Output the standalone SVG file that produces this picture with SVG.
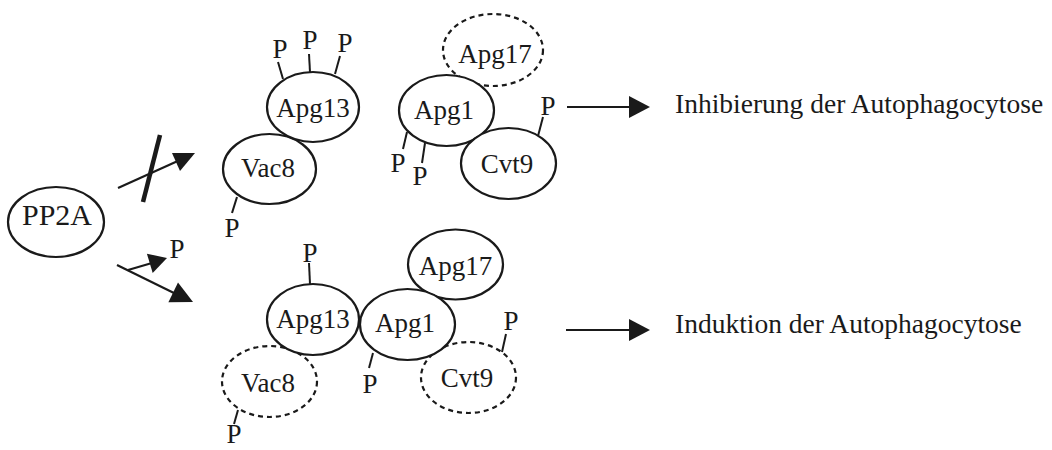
<svg xmlns="http://www.w3.org/2000/svg" width="1052" height="450" viewBox="0 0 1052 450">
  <style>
    .node { fill: #fff; stroke: #1a1a1a; stroke-width: 2.2; }
    .dashed { stroke-dasharray: 5 4; }
    .lbl { font-family: "Liberation Serif", "Times New Roman", serif; font-size: 27px; fill: #1a1a1a; text-anchor: middle; }
    .big { font-size: 30px; }
    .note { font-family: "Liberation Serif", "Times New Roman", serif; font-size: 27.5px; fill: #1a1a1a; }
    .tick { stroke: #1a1a1a; stroke-width: 2; fill: none; }
    .line { stroke: #1a1a1a; stroke-width: 2.2; fill: none; }
    .head { fill: #1a1a1a; stroke: none; }
  </style>

  <!-- PP2A -->
  <g id="pp2a">
    <ellipse class="node" cx="56" cy="222" rx="48" ry="35"/>
    <text class="lbl big" x="57" y="225">PP2A</text>
  </g>

  <!-- Inactive complex (upper row) -->
  <g id="apg17-top">
    <ellipse class="node dashed" cx="493" cy="50" rx="50" ry="36"/>
    <text class="lbl" x="495" y="63">Apg17</text>
  </g>
  <g id="vac8-top">
    <ellipse class="node" cx="269.5" cy="169" rx="46.5" ry="35"/>
    <text class="lbl" x="268" y="177">Vac8</text>
  </g>
  <g id="apg13-top">
    <ellipse class="node" cx="313" cy="107" rx="46" ry="35"/>
    <text class="lbl" x="313" y="117">Apg13</text>
  </g>
  <g id="apg1-top">
    <ellipse class="node" cx="446.5" cy="110.5" rx="47.5" ry="35.5"/>
    <text class="lbl" x="444" y="119">Apg1</text>
  </g>
  <g id="cvt9-top">
    <ellipse class="node" cx="508.5" cy="163.5" rx="47.5" ry="35.5"/>
    <text class="lbl" x="507" y="173">Cvt9</text>
  </g>

  <!-- Active complex (lower row) -->
  <g id="vac8-bottom">
    <ellipse class="node dashed" cx="269.5" cy="381.5" rx="47.5" ry="35.5"/>
    <text class="lbl" x="268" y="392">Vac8</text>
  </g>
  <g id="cvt9-bottom">
    <ellipse class="node dashed" cx="468.5" cy="377.5" rx="47.5" ry="35.5"/>
    <text class="lbl" x="467" y="387">Cvt9</text>
  </g>
  <g id="apg17-bottom">
    <ellipse class="node" cx="455.5" cy="264.5" rx="47.5" ry="35"/>
    <text class="lbl" x="455.5" y="275">Apg17</text>
  </g>
  <g id="apg13-bottom">
    <ellipse class="node" cx="313" cy="319.5" rx="46" ry="35.5"/>
    <text class="lbl" x="313" y="328">Apg13</text>
  </g>
  <g id="apg1-bottom">
    <ellipse class="node" cx="407.5" cy="324.5" rx="47.5" ry="35.5"/>
    <text class="lbl" x="405" y="332">Apg1</text>
  </g>

  <!-- Phosphate groups -->
  <g id="phosphates">
    <line class="tick" x1="283" y1="79" x2="278" y2="62"/>
    <text class="lbl" x="280" y="58">P</text>
    <line class="tick" x1="310" y1="72" x2="309" y2="54"/>
    <text class="lbl" x="310" y="49">P</text>
    <line class="tick" x1="335" y1="74" x2="340" y2="56"/>
    <text class="lbl" x="345" y="52">P</text>

    <line class="tick" x1="237" y1="197" x2="232" y2="213"/>
    <text class="lbl" x="232" y="237">P</text>

    <line class="tick" x1="407" y1="132" x2="403" y2="149"/>
    <text class="lbl" x="398" y="172">P</text>
    <line class="tick" x1="425" y1="143" x2="422" y2="163"/>
    <text class="lbl" x="420" y="185">P</text>

    <line class="tick" x1="538" y1="136" x2="543" y2="117"/>
    <text class="lbl" x="548" y="115">P</text>

    <text class="lbl" x="177" y="258">P</text>

    <line class="tick" x1="310" y1="284" x2="309" y2="263"/>
    <text class="lbl" x="310" y="262">P</text>

    <line class="tick" x1="238" y1="410" x2="234" y2="424"/>
    <text class="lbl" x="234" y="443">P</text>

    <line class="tick" x1="373" y1="353" x2="369" y2="368"/>
    <text class="lbl" x="370" y="393">P</text>

    <line class="tick" x1="502" y1="352" x2="506" y2="334"/>
    <text class="lbl" x="511" y="330">P</text>
  </g>

  <!-- Connectors -->
  <g id="connectors">
    <!-- blocked activation -->
    <line class="line" x1="118" y1="188" x2="180" y2="160"/>
    <polygon class="head" points="195,153 180,171 172,153"/>
    <line stroke="#1a1a1a" stroke-width="4.5" x1="160" y1="135" x2="143" y2="202"/>

    <!-- dephosphorylation branch -->
    <line class="line" x1="117" y1="265" x2="178" y2="295"/>
    <polygon class="head" points="193,302 168.4,302.3 178,282.5"/>
    <line class="line" x1="128" y1="270" x2="152" y2="263"/>
    <polygon class="head" points="167,258 152.7,272.9 146.9,253.7"/>

    <!-- outcomes -->
    <line class="line" x1="567" y1="107" x2="632" y2="107"/>
    <polygon class="head" points="650,107 629,96 629,118"/>
    <line class="line" x1="566" y1="330" x2="632" y2="330"/>
    <polygon class="head" points="650,330 629,319 629,341"/>
  </g>

  <!-- Outcome labels -->
  <g id="outcome-inhibition">
    <text class="note" x="675" y="113">Inhibierung der Autophagocytose</text>
  </g>
  <g id="outcome-induction">
    <text class="note" x="675" y="333">Induktion der Autophagocytose</text>
  </g>
</svg>
